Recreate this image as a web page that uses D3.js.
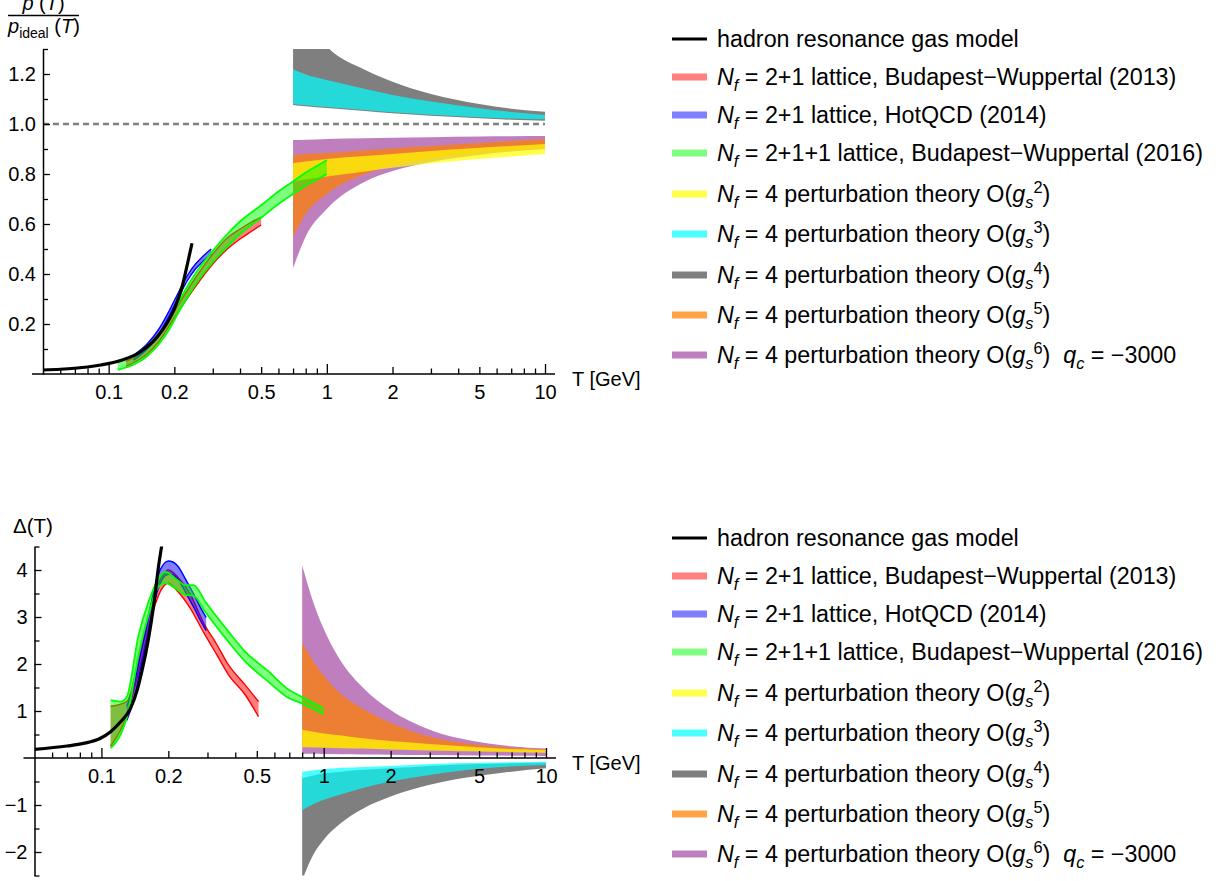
<!DOCTYPE html>
<html>
<head>
<meta charset="utf-8">
<script src="https://cdn.jsdelivr.net/npm/d3@7"></script>
<style>
  body { margin: 0; background: #fff; }
  text { font-family: "Liberation Sans", Arial, sans-serif; }
</style>
</head>
<body>
<svg id="chart" width="1219" height="881"></svg>
<script>
// ---------- top panel: p(T) / p_ideal(T) ----------
const hrgT1 = [0.05, 0.06, 0.07, 0.08, 0.092, 0.1135, 0.14, 0.167, 0.185, 0.202, 0.217, 0.23, 0.241];
const hrgV1 = [0.016, 0.019, 0.023, 0.028, 0.036, 0.054, 0.089, 0.149, 0.203, 0.269, 0.349, 0.443, 0.523];

const bw13T1 = [0.12, 0.13, 0.15, 0.17, 0.2, 0.25, 0.3, 0.35, 0.4, 0.45, 0.5];
const bw13Lo1 = [0.03, 0.045, 0.08, 0.13, 0.225, 0.35, 0.44, 0.5, 0.54, 0.57, 0.596];
const bw13Hi1 = [0.05, 0.065, 0.1, 0.15, 0.25, 0.385, 0.48, 0.545, 0.58, 0.607, 0.628];

const hot14T1 = [0.13, 0.15, 0.17, 0.19, 0.21, 0.23, 0.25, 0.27, 0.295];
const hot14Lo1 = [0.055, 0.1, 0.16, 0.235, 0.31, 0.375, 0.42, 0.45, 0.48];
const hot14Hi1 = [0.075, 0.12, 0.18, 0.255, 0.33, 0.395, 0.44, 0.47, 0.5];

const bw16T1 = [0.11, 0.13, 0.15, 0.17, 0.19, 0.21, 0.23, 0.25, 0.3, 0.35, 0.4, 0.5, 0.6, 0.7, 0.8, 0.9, 1.0];
const bw16Lo1 = [0.017, 0.037, 0.071, 0.12, 0.18, 0.25, 0.308, 0.358, 0.447, 0.51, 0.56, 0.625, 0.68, 0.72, 0.754, 0.778, 0.8];
const bw16Hi1 = [0.053, 0.073, 0.109, 0.16, 0.22, 0.29, 0.352, 0.402, 0.493, 0.56, 0.61, 0.675, 0.73, 0.77, 0.806, 0.832, 0.855];

const ptT1 = [0.7, 0.8, 1, 1.5, 2, 3, 5, 7, 10];
const g2Lo1 = [0.769, 0.778, 0.79, 0.81, 0.825, 0.843, 0.86, 0.87, 0.88];
const g2Hi1 = [0.843, 0.85, 0.86, 0.872, 0.88, 0.892, 0.905, 0.912, 0.92];
const g3Lo1 = [1.08, 1.075, 1.068, 1.056, 1.047, 1.037, 1.027, 1.022, 1.019];
const g3Hi1 = [1.219, 1.198, 1.176, 1.14, 1.116, 1.09, 1.063, 1.048, 1.036];
const g4Lo1 = [1.076, 1.071, 1.064, 1.052, 1.043, 1.033, 1.023, 1.017, 1.013];
const g4Hi1 = [1.55, 1.42, 1.31, 1.216, 1.169, 1.12, 1.08, 1.061, 1.049];
const g5Lo1 = [0.548, 0.64, 0.72, 0.8, 0.835, 0.862, 0.885, 0.895, 0.903];
const g5Hi1 = [0.876, 0.88, 0.884, 0.895, 0.903, 0.912, 0.924, 0.932, 0.94];
const g6Lo1 = [0.423, 0.55, 0.66, 0.77, 0.812, 0.848, 0.876, 0.89, 0.9];
const g6Hi1 = [0.936, 0.937, 0.94, 0.943, 0.945, 0.947, 0.95, 0.951, 0.952];

// ---------- bottom panel: trace anomaly Delta(T) ----------
const hrgT2 = [0.05, 0.07, 0.083, 0.099, 0.11, 0.122, 0.135, 0.145, 0.152, 0.163, 0.172, 0.181, 0.188];
const hrgV2 = [0.185, 0.255, 0.31, 0.42, 0.56, 0.77, 1.05, 1.45, 1.84, 2.55, 3.26, 4.1, 4.6];

const bw13T2 = [0.11, 0.13, 0.15, 0.17, 0.19, 0.2, 0.22, 0.25, 0.29, 0.33, 0.373, 0.444, 0.509];
const bw13Lo2 = [0.25, 0.9, 2.0, 3.1, 3.65, 3.72, 3.55, 3.2, 2.65, 2.2, 1.77, 1.34, 0.88];
const bw13Hi2 = [1.1, 1.2, 2.3, 3.4, 3.9, 4.0, 3.85, 3.5, 2.85, 2.42, 1.98, 1.55, 1.2];

const hot14T2 = [0.13, 0.14, 0.15, 0.16, 0.17, 0.18, 0.19, 0.2, 0.21, 0.22, 0.24, 0.26, 0.28, 0.296];
const hot14Lo2 = [0.8, 1.25, 1.9, 2.5, 3.15, 3.6, 3.84, 3.91, 3.89, 3.81, 3.51, 3.21, 2.91, 2.71];
const hot14Hi2 = [1.1, 1.55, 2.2, 2.8, 3.45, 3.9, 4.12, 4.19, 4.17, 4.09, 3.79, 3.49, 3.19, 2.99];

const bw16T2 = [0.11, 0.122, 0.13, 0.147, 0.163, 0.181, 0.194, 0.215, 0.239, 0.26, 0.293, 0.373, 0.444, 0.565, 0.683, 0.798, 1.0];
const bw16Lo2 = [0.21, 0.5, 0.85, 2.19, 3.05, 3.65, 3.72, 3.61, 3.47, 3.45, 3.11, 2.47, 2.05, 1.62, 1.3, 1.16, 0.93];
const bw16Hi2 = [1.23, 1.2, 1.3, 2.62, 3.33, 3.82, 3.96, 3.82, 3.68, 3.68, 3.33, 2.69, 2.26, 1.84, 1.48, 1.3, 1.05];

const ptT2 = [0.8, 0.9, 1, 1.2, 1.5, 2, 3, 5, 7, 10];
const g2Lo2 = [0.23, 0.225, 0.22, 0.21, 0.2, 0.18, 0.16, 0.14, 0.125, 0.11];
const g2Hi2 = [0.6, 0.56, 0.52, 0.48, 0.42, 0.36, 0.3, 0.23, 0.19, 0.17];
const g3Lo2 = [-1.11, -0.98, -0.89, -0.77, -0.64, -0.5, -0.36, -0.23, -0.18, -0.15];
const g3Hi2 = [-0.29, -0.26, -0.24, -0.21, -0.19, -0.17, -0.13, -0.1, -0.09, -0.08];
const g4Lo2 = [-2.6, -2.05, -1.74, -1.38, -1.08, -0.82, -0.57, -0.38, -0.29, -0.22];
const g4Hi2 = [-0.43, -0.37, -0.33, -0.29, -0.25, -0.22, -0.17, -0.13, -0.11, -0.1];
const g5Lo2 = [0.24, 0.235, 0.23, 0.22, 0.21, 0.19, 0.17, 0.15, 0.135, 0.12];
const g5Hi2 = [2.45, 2.05, 1.75, 1.35, 1.05, 0.75, 0.45, 0.28, 0.22, 0.18];
const g6Lo2 = [0.09, 0.088, 0.085, 0.08, 0.075, 0.07, 0.062, 0.055, 0.05, 0.045];
const g6Hi2 = [4.1, 3.3, 2.75, 2.05, 1.5, 1.02, 0.6, 0.34, 0.25, 0.2];

// ---------- ticks and legend ----------
const xTicks = [0.06, 0.07, 0.08, 0.09, 0.1, 0.2, 0.3, 0.4, 0.5, 0.6, 0.7, 0.8, 0.9, 1, 2, 3, 4, 5, 6, 7, 8, 9, 10];
const xTickLabels = [0.1, 0.2, 0.5, 1, 2, 5, 10];
const xDecades = [0.1, 1, 10];
const yTicks1 = [0.1, 0.2, 0.3, 0.4, 0.5, 0.6, 0.7, 0.8, 0.9, 1.0, 1.1, 1.2, 1.3];
const yTickLabels1 = [0.2, 0.4, 0.6, 0.8, 1.0, 1.2];
const yTicks2 = [-2.5, -2, -1.5, -1, -0.5, 0.5, 1, 1.5, 2, 2.5, 3, 3.5, 4, 4.5];
const yTickLabels2 = [-2, -1, 1, 2, 3, 4];

const legendLabels = [
  [["hadron resonance gas model"]],
  [["N", "i"], ["f", "isub"], [" = 2+1 lattice, Budapest\u2212Wuppertal (2013)"]],
  [["N", "i"], ["f", "isub"], [" = 2+1 lattice, HotQCD (2014)"]],
  [["N", "i"], ["f", "isub"], [" = 2+1+1 lattice, Budapest\u2212Wuppertal (2016)"]],
  [["N", "i"], ["f", "isub"], [" = 4 perturbation theory O("], ["g", "i"], ["s", "isub"], ["2", "sup"], [")"]],
  [["N", "i"], ["f", "isub"], [" = 4 perturbation theory O("], ["g", "i"], ["s", "isub"], ["3", "sup"], [")"]],
  [["N", "i"], ["f", "isub"], [" = 4 perturbation theory O("], ["g", "i"], ["s", "isub"], ["4", "sup"], [")"]],
  [["N", "i"], ["f", "isub"], [" = 4 perturbation theory O("], ["g", "i"], ["s", "isub"], ["5", "sup"], [")"]],
  [["N", "i"], ["f", "isub"], [" = 4 perturbation theory O("], ["g", "i"], ["s", "isub"], ["6", "sup"], [")  "],
   ["q", "i"], ["c", "isub"], [" = \u22123000"]]
];

const colRed = 'rgba(255,0,0,0.5)', colBlue = 'rgba(0,0,255,0.5)', colGreen = 'rgba(0,255,0,0.5)';
const colYellow = 'rgba(255,255,0,0.7)', colCyan = 'rgba(0,255,255,0.7)', colGray = 'rgba(0,0,0,0.5)';
const colOrange = 'rgba(255,128,0,0.72)', colPurple = 'rgba(128,0,128,0.5)';
const legendColors = ['#000', colRed, colBlue, colGreen, colYellow, colCyan, colGray, colOrange, colPurple];
const legendY = [39, 77, 115, 153, 194, 234, 275, 315, 355];

const svg = d3.select('#chart');
const FONT = '"Liberation Sans", Arial, sans-serif';
const LEG_FS = 23.3;

const zip = (t, lo, hi) => t.map((d, i) => ({ t: d, lo: lo[i], hi: hi[i] }));

// rich text with italic / sub / superscript pieces
function richText(sel, parts, fs) {
  let shift = 0;
  parts.forEach(([s, st]) => {
    const sp = sel.append('tspan').text(s);
    let target = 0, size = fs;
    if (st === 'isub' || st === 'sub') { target = fs * 0.24; size = fs * 0.7; }
    if (st === 'sup') { target = -fs * 0.38; size = fs * 0.7; }
    if (st === 'i' || st === 'isub') sp.attr('font-style', 'italic');
    sp.attr('font-size', size);
    if (target !== shift) { sp.attr('dy', target - shift); shift = target; }
  });
}

function drawPanel(p) {
  const { x, y, id } = p;
  const g = svg.append('g');
  const [x0, x1] = x.range(), [yb, yt] = y.range();

  svg.append('clipPath').attr('id', id)
    .append('rect').attr('x', x0).attr('y', yt).attr('width', x1 - x0 + 1).attr('height', yb - yt);
  const plot = g.append('g').attr('clip-path', `url(#${id})`);

  const area = d3.area().curve(d3.curveMonotoneX)
    .x(d => x(d.t)).y0(d => y(d.lo)).y1(d => y(d.hi));
  const edge = key => d3.line().curve(d3.curveMonotoneX).x(d => x(d.t)).y(d => y(d[key]));

  // perturbative bands
  p.pert.forEach(b => {
    plot.append('path').datum(b.data).attr('fill', b.color).attr('d', area);
  });

  if (p.dashed) {
    plot.append('line')
      .attr('x1', x0).attr('x2', x1).attr('y1', y(1)).attr('y2', y(1))
      .attr('stroke', '#808080').attr('stroke-width', 2.5).attr('stroke-dasharray', '6,4');
  }

  // lattice bands with outlined edges
  p.lattice.forEach(b => {
    plot.append('path').datum(b.data).attr('fill', b.color).attr('d', area);
    ['lo', 'hi'].forEach(k => {
      plot.append('path').datum(b.data)
        .attr('fill', 'none').attr('stroke', b.stroke).attr('stroke-width', b.sw)
        .attr('d', edge(k));
    });
  });

  // hadron resonance gas
  plot.append('path').datum(p.hrg)
    .attr('fill', 'none').attr('stroke', '#000').attr('stroke-width', 3.2)
    .attr('d', d3.line().curve(d3.curveMonotoneX).x(d => x(d.t)).y(d => y(d.v)));

  // x axis at y = 0
  const y0 = y(0);
  const xAx = g.append('g').attr('transform', `translate(0,${y0})`)
    .call(d3.axisBottom(x).tickValues(xTicks).tickSize(-6).tickPadding(11)
      .tickFormat(d => xTickLabels.includes(d) ? d3.format('~g')(d) : ''));
  xAx.select('.domain').remove();
  xAx.selectAll('.tick line')
    .attr('y2', d => xDecades.includes(d) ? -10 : (xTickLabels.includes(d) ? -7 : -5.5))
    .attr('stroke-width', 1.3);
  xAx.selectAll('text').attr('font-size', 20).attr('font-family', FONT).attr('fill', '#000');
  g.append('line').attr('x1', x0 - 11).attr('x2', x1 + 10).attr('y1', y0).attr('y2', y0)
    .attr('stroke', '#000').attr('stroke-width', 1.5);
  g.append('text').attr('x', 572).attr('y', y0 + 12).attr('font-size', 20).text('T [GeV]');

  // y axis
  const yAx = g.append('g').attr('transform', `translate(${x0},0)`)
    .call(d3.axisLeft(y).tickValues(p.yTicks).tickSize(-6).tickSizeOuter(0).tickPadding(7)
      .tickFormat(d => p.yLabels.includes(d) ? p.yFmt(d) : ''));
  yAx.select('.domain').attr('stroke-width', 1.5);
  yAx.selectAll('.tick line').attr('x2', d => p.yLabels.includes(d) ? 7 : 5).attr('stroke-width', 1.3);
  yAx.selectAll('text').attr('font-size', 20).attr('font-family', FONT).attr('fill', '#000');
}

function drawLegend(offset) {
  const g = svg.append('g').attr('transform', `translate(0,${offset})`);
  legendLabels.forEach((parts, i) => {
    const yy = legendY[i];
    g.append('line').attr('x1', 672).attr('x2', 707).attr('y1', yy).attr('y2', yy)
      .attr('stroke', legendColors[i]).attr('stroke-width', i === 0 ? 3.2 : 7);
    const t = g.append('text').attr('x', 717).attr('y', yy + 8).attr('font-size', LEG_FS)
      .style('white-space', 'pre');
    richText(t, parts, LEG_FS);
  });
}

const xTop = d3.scaleLog().domain([0.05, 10]).range([43, 545]);
const yTop = d3.scaleLinear().domain([0, 1.3]).range([374, 49]);
const xBot = d3.scaleLog().domain([0.05, 10]).range([34.5, 546]);
const yBot = d3.scaleLinear().domain([-2.5, 4.5]).range([875.5, 546.5]);

const latticeTop = [
  { data: zip(bw13T1, bw13Lo1, bw13Hi1), color: colRed, stroke: '#ff0000', sw: 1.4 },
  { data: zip(hot14T1, hot14Lo1, hot14Hi1), color: colBlue, stroke: '#0000ff', sw: 1.4 },
  { data: zip(bw16T1, bw16Lo1, bw16Hi1), color: colGreen, stroke: '#00ff00', sw: 1.8 }
];
const latticeBot = [
  { data: zip(bw13T2, bw13Lo2, bw13Hi2), color: colRed, stroke: '#ff0000', sw: 1.4 },
  { data: zip(hot14T2, hot14Lo2, hot14Hi2), color: colBlue, stroke: '#0000ff', sw: 1.4 },
  { data: zip(bw16T2, bw16Lo2, bw16Hi2), color: colGreen, stroke: '#00ff00', sw: 1.8 }
];

drawPanel({
  id: 'clipTop', x: xTop, y: yTop, dashed: true,
  pert: [
    { data: zip(ptT1, g6Lo1, g6Hi1), color: colPurple },
    { data: zip(ptT1, g5Lo1, g5Hi1), color: colOrange },
    { data: zip(ptT1, g2Lo1, g2Hi1), color: colYellow },
    { data: zip(ptT1, g4Lo1, g4Hi1), color: colGray },
    { data: zip(ptT1, g3Lo1, g3Hi1), color: colCyan }
  ],
  lattice: latticeTop,
  hrg: hrgT1.map((t, i) => ({ t, v: hrgV1[i] })),
  yTicks: yTicks1, yLabels: yTickLabels1, yFmt: d3.format('.1f')
});

drawPanel({
  id: 'clipBot', x: xBot, y: yBot, dashed: false,
  pert: [
    { data: zip(ptT2, g6Lo2, g6Hi2), color: colPurple },
    { data: zip(ptT2, g5Lo2, g5Hi2), color: colOrange },
    { data: zip(ptT2, g2Lo2, g2Hi2), color: colYellow },
    { data: zip(ptT2, g4Lo2, g4Hi2), color: colGray },
    { data: zip(ptT2, g3Lo2, g3Hi2), color: colCyan }
  ],
  lattice: latticeBot,
  hrg: hrgT2.map((t, i) => ({ t, v: hrgV2[i] })),
  yTicks: yTicks2, yLabels: yTickLabels2, yFmt: d3.format('d')
});

drawLegend(0);
drawLegend(499);

// axis titles
const num = svg.append('text').attr('x', 43.5).attr('y', 10).attr('font-size', 20).attr('text-anchor', 'middle')
  .style('white-space', 'pre');
richText(num, [["p", "i"], [" ("], ["T", "i"], [")"]], 20);
svg.append('line').attr('x1', 8).attr('x2', 79).attr('y1', 15.5).attr('y2', 15.5)
  .attr('stroke', '#000').attr('stroke-width', 1.3);
const den = svg.append('text').attr('x', 8).attr('y', 33).attr('font-size', 20).style('white-space', 'pre');
richText(den, [["p", "i"], ["ideal", "sub"], [" ("], ["T", "i"], [")"]], 20);

svg.append('text').attr('x', 13).attr('y', 533).attr('font-size', 20.5).text('\u0394(T)');
</script>
</body>
</html>
